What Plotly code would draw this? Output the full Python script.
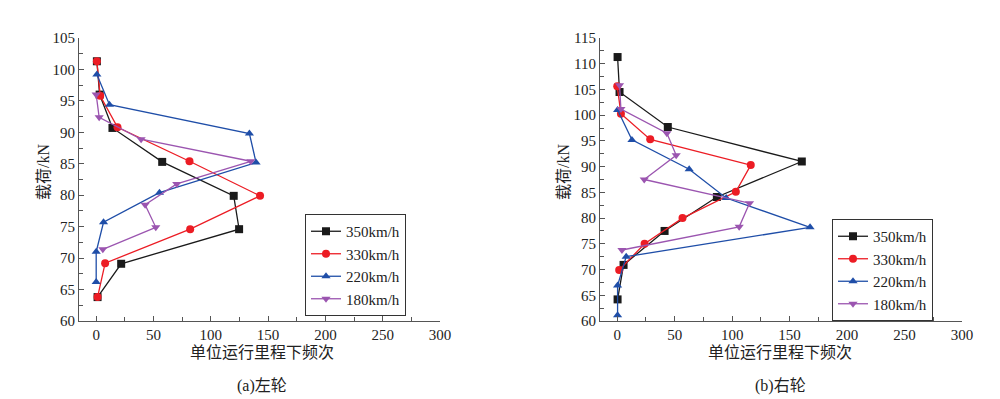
import plotly.graph_objects as go

speeds = ["350km/h", "330km/h", "220km/h", "180km/h"]
colors = ["#1a1a1a", "#ec1c24", "#1f4ea8", "#9b55b0"]
symbols = ["square", "circle", "triangle-up", "triangle-down"]

# Left wheel (a)
left_x = [
    [0.6, 3, 14.2, 57.6, 120, 124.7, 21.8, 1.2],
    [0.6, 3.5, 18.6, 81.4, 143, 82, 7.8, 1.2],
    [0.6, 11.6, 133.7, 139.5, 55.2, 6.4, 0, 0],
    [0, 2.6, 39.2, 134.9, 70.3, 42.7, 52, 5.8],
]
left_y = [
    [101.3, 96.0, 90.7, 85.3, 79.9, 74.6, 69.1, 63.8],
    [101.3, 95.8, 90.8, 85.4, 79.9, 74.6, 69.2, 63.8],
    [99.2, 94.4, 89.8, 85.2, 80.4, 75.7, 71.0, 66.2],
    [96.0, 92.4, 88.9, 85.4, 81.8, 78.5, 74.9, 71.4],
]

# Right wheel (b)
right_x = [
    [0.3, 2, 44, 160.6, 86.7, 41.2, 5.5, 0.3],
    [0, 3.2, 28.7, 116.2, 103.2, 56.8, 23.8, 1.7],
    [0.3, 12.8, 62.6, 94.8, 167.8, 7.8, 0.3, 0.3],
    [2, 3.2, 43.2, 51.3, 23.5, 115.1, 106.1, 4.1],
]
right_y = [
    [111.3, 104.5, 97.7, 91.0, 84.1, 77.5, 70.9, 64.2],
    [105.6, 100.3, 95.3, 90.3, 85.1, 80.0, 75.0, 69.9],
    [101.0, 95.2, 89.5, 83.9, 78.2, 72.5, 66.9, 61.1],
    [105.8, 101.2, 96.5, 92.2, 87.5, 82.9, 78.3, 73.8],
]

x_title = "单位运行里程下频次"
y_title = "载荷/kN"
captions = ["(a)左轮", "(b)右轮"]

FONT = "Liberation Serif, Times New Roman, Noto Sans CJK SC, serif"

W, H = 1000, 399
M = 30
OFF = 8  # page body offset
PW, PH = W - 2 * M, H - 2 * M


def px(xp):
    return (xp - OFF - M) / PW


def py(yp):
    return (H - M - (yp - OFF)) / PH


fig = go.Figure()
for i in range(4):
    fig.add_trace(go.Scatter(
        x=left_x[i], y=left_y[i], mode="lines+markers", name=speeds[i],
        line=dict(color=colors[i], width=1.3),
        marker=dict(symbol=symbols[i], size=8, color=colors[i]),
        xaxis="x", yaxis="y", legend="legend",
    ))
for i in range(4):
    fig.add_trace(go.Scatter(
        x=right_x[i], y=right_y[i], mode="lines+markers", name=speeds[i],
        line=dict(color=colors[i], width=1.3),
        marker=dict(symbol=symbols[i], size=8, color=colors[i]),
        xaxis="x2", yaxis="y2", legend="legend2",
    ))

ydom = [py(321), py(38)]
axis_common = dict(
    showline=True, linecolor="#555555", linewidth=1,
    ticks="inside", ticklen=5, tickcolor="#555555",
    showgrid=False, zeroline=False, automargin=False,
    tickfont=dict(family=FONT, size=15, color="#222222"),
)
minor_common = dict(ticks="inside", ticklen=4, tickcolor="#555555")
fig.update_layout(
    width=W, height=H,
    margin=dict(l=M, r=M, t=M, b=M, autoexpand=False),
    paper_bgcolor="white", plot_bgcolor="white",
    font=dict(family=FONT, color="#222222"),
    xaxis=dict(domain=[px(79), px(440)], range=[-15, 300], tickvals=[0, 50, 100, 150, 200, 250, 300],
               minor=dict(dtick=25, tick0=0, **minor_common), anchor="y", **axis_common),
    yaxis=dict(domain=ydom, range=[60, 105], dtick=5,
               minor=dict(dtick=2.5, tick0=60, **minor_common), anchor="x", **axis_common),
    xaxis2=dict(domain=[px(600), px(962)], range=[-15, 300], tickvals=[0, 50, 100, 150, 200, 250, 300],
                minor=dict(dtick=25, tick0=0, **minor_common), anchor="y2", **axis_common),
    yaxis2=dict(domain=ydom, range=[60, 115], dtick=5,
                minor=dict(dtick=2.5, tick0=60, **minor_common), anchor="x2", **axis_common),
    legend=dict(x=px(305), y=py(214), xanchor="left", yanchor="top",
                bordercolor="#333333", borderwidth=1, bgcolor="white",
                font=dict(family=FONT, size=15), tracegroupgap=0, itemwidth=30),
    legend2=dict(x=px(832), y=py(219), xanchor="left", yanchor="top",
                 bordercolor="#333333", borderwidth=1, bgcolor="white",
                 font=dict(family=FONT, size=15), tracegroupgap=0, itemwidth=30),
    showlegend=True,
)

ann = []
for cx, cap in [(262, captions[0]), (780, captions[1])]:
    ann.append(dict(x=px(cx), y=py(352), xref="paper", yref="paper", text=x_title,
                    showarrow=False, font=dict(family=FONT, size=16), xanchor="center", yanchor="middle"))
    ann.append(dict(x=px(cx), y=py(386), xref="paper", yref="paper", text=cap,
                    showarrow=False, font=dict(family=FONT, size=16), xanchor="center", yanchor="middle"))
for cx in [43, 563]:
    ann.append(dict(x=px(cx), y=py(172), xref="paper", yref="paper", text=y_title, textangle=-90,
                    showarrow=False, font=dict(family=FONT, size=16), xanchor="center", yanchor="middle"))
fig.update_layout(annotations=ann)

fig.write_html("out.html")
